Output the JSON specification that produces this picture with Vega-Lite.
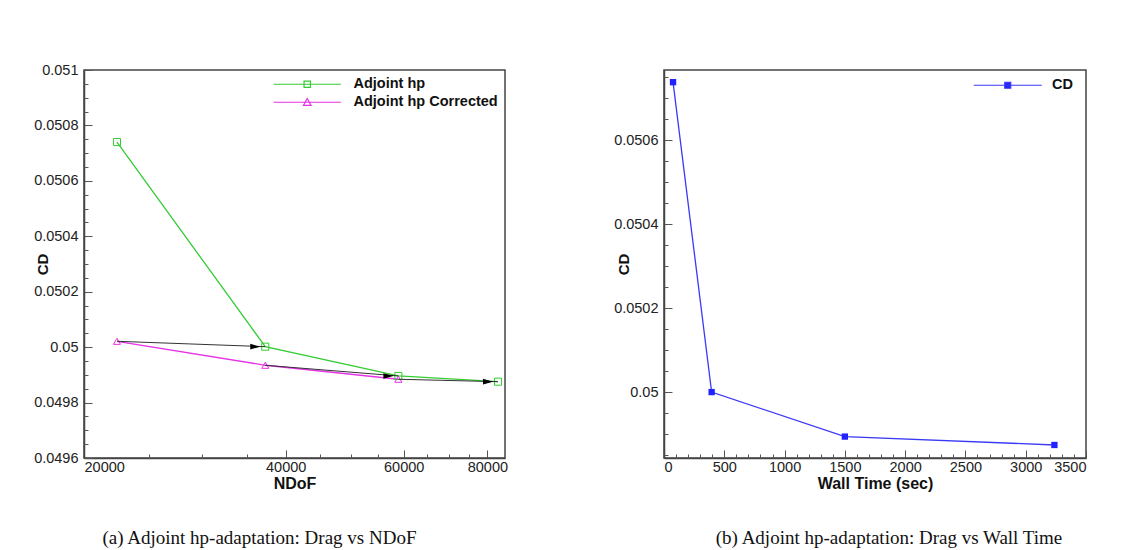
{
  "$schema": "https://vega.github.io/schema/vega-lite/v6.json",
  "background": "white",
  "padding": {"left": 32, "top": 61, "right": 5, "bottom": 5},
  "spacing": 103,
  "resolve": {"scale": {"color": "independent"}, "legend": {"color": "independent"}},
  "config": {
    "font": "Liberation Sans",
    "view": {"stroke": "#444", "strokeWidth": 1.5},
    "axis": {"domainColor": "#444", "domainWidth": 1.5, "tickColor": "#555", "tickWidth": 1, "labelFont": "Liberation Sans", "labelFontSize": 14.5, "labelColor": "#222", "grid": false, "titleFont": "Liberation Sans", "titleFontWeight": "bold", "titleColor": "#111"},
    "legend": {"padding": 0, "labelFont": "Liberation Sans", "labelFontSize": 14.5, "labelFontWeight": "bold", "labelColor": "#111"},
    "title": {"font": "Liberation Serif", "fontSize": 19, "fontWeight": "normal", "color": "#111", "orient": "bottom", "anchor": "middle"}
  },
  "datasets": {
    "drag": [
      {"series": "Adjoint hp", "ndof": 22400, "cd": 0.050740},
      {"series": "Adjoint hp", "ndof": 37290, "cd": 0.0500017},
      {"series": "Adjoint hp", "ndof": 58920, "cd": 0.049896},
      {"series": "Adjoint hp", "ndof": 82980, "cd": 0.0498754},
      {"series": "Adjoint hp Corrected", "ndof": 22400, "cd": 0.0500211},
      {"series": "Adjoint hp Corrected", "ndof": 37290, "cd": 0.0499346},
      {"series": "Adjoint hp Corrected", "ndof": 58920, "cd": 0.0498841}
    ],
    "arrows": [
      {"x1": 22400, "y1": 0.0500211, "x2": 37290, "y2": 0.0500017},
      {"x1": 37290, "y1": 0.0499346, "x2": 58920, "y2": 0.049896},
      {"x1": 58920, "y1": 0.0498841, "x2": 82980, "y2": 0.0498754}
    ],
    "wall": [
      {"series": "CD", "time": 75, "cd": 0.050738},
      {"series": "CD", "time": 395, "cd": 0.0500},
      {"series": "CD", "time": 1500, "cd": 0.049894},
      {"series": "CD", "time": 3238, "cd": 0.049874}
    ]
  },
  "hconcat": [
    {
      "width": 421,
      "height": 388,
      "title": {"text": "(a) Adjoint hp-adaptation: Drag vs NDoF", "dx": -35, "offset": 37},
      "resolve": {"axis": {"x": "independent", "y": "independent"}},
      "layer": [
        {
          "data": {"name": "drag"},
          "mark": {"type": "line", "strokeWidth": 1.3},
          "encoding": {
            "x": {"field": "ndof", "type": "quantitative", "scale": {"type": "log", "domain": [20000, 85000], "nice": false},
              "axis": {"orient": "bottom", "values": [20000, 40000, 60000, 80000], "format": "d", "tickSize": -8, "labelPadding": 10, "title": "NDoF", "titleFontSize": 16, "titlePadding": 2}},
            "y": {"field": "cd", "type": "quantitative", "scale": {"domain": [0.0496, 0.051], "nice": false, "zero": false},
              "axis": {"orient": "left", "values": [0.0496, 0.0498, 0.05, 0.0502, 0.0504, 0.0506, 0.0508, 0.051], "format": ".3~r", "tickSize": -8, "labelPadding": 14, "title": "CD", "titleFontSize": 15, "titleX": -42, "titleY": 194, "titleBaseline": "middle", "titleAngle": -90}},
            "color": {"field": "series", "type": "nominal",
              "scale": {"domain": ["Adjoint hp", "Adjoint hp Corrected"], "range": ["#33cc33", "#e633e6"]},
              "legend": {"title": null, "orient": "none", "legendX": 188, "legendY": 7, "symbolSize": 64, "symbolOffset": 28, "labelOffset": 39, "rowPadding": 3, "symbolStrokeWidth": 1.2, "symbolFillColor": "transparent",
                "encode": {"symbols": {"update": {"shape": {"signal": "datum.value == 'Adjoint hp' ? 'M-8.4,0H8.4M-0.8,-0.8H0.8V0.8H-0.8Z' : 'M-8.4,0H8.4M0,-0.95L0.95,0.8H-0.95Z'"}}}}}}
          }
        },
        {
          "data": {"name": "drag"},
          "mark": {"type": "point", "filled": false, "strokeWidth": 1, "opacity": 1},
          "encoding": {
            "x": {"field": "ndof", "type": "quantitative",
              "axis": {"orient": "bottom", "values": [25000, 30000, 35000, 45000, 50000, 55000, 65000, 70000, 75000], "tickSize": -4, "labels": false, "domain": false, "title": null}},
            "y": {"field": "cd", "type": "quantitative",
              "axis": {"orient": "left", "values": [0.04965, 0.0497, 0.04975, 0.04985, 0.0499, 0.04995, 0.05005, 0.0501, 0.05015, 0.05025, 0.0503, 0.05035, 0.05045, 0.0505, 0.05055, 0.05065, 0.0507, 0.05075, 0.05085, 0.0509, 0.05095], "tickSize": -4, "labels": false, "domain": false, "title": null}},
            "color": {"field": "series", "type": "nominal"},
            "shape": {"field": "series", "type": "nominal", "scale": {"domain": ["Adjoint hp", "Adjoint hp Corrected"], "range": ["square", "triangle-up"]}, "legend": null},
            "size": {"value": 50}
          }
        },
        {
          "data": {"name": "arrows"},
          "mark": {"type": "rule", "color": "#333", "strokeWidth": 1},
          "encoding": {
            "x": {"field": "x1", "type": "quantitative", "axis": null},
            "y": {"field": "y1", "type": "quantitative", "axis": null},
            "x2": {"field": "x2"},
            "y2": {"field": "y2"}
          }
        },
        {
          "data": {"name": "arrows"},
          "mark": {"type": "point", "shape": "M0,0L-1,-0.28L-1,0.28Z", "filled": true, "color": "#000", "opacity": 1, "size": 400, "xOffset": -5},
          "encoding": {
            "x": {"field": "x2", "type": "quantitative", "axis": null},
            "y": {"field": "y2", "type": "quantitative", "axis": null}
          }
        }
      ]
    },
    {
      "width": 422,
      "height": 388,
      "title": {"text": "(b) Adjoint hp-adaptation: Drag vs Wall Time", "dx": 14, "offset": 37},
      "resolve": {"axis": {"x": "independent", "y": "independent"}},
      "data": {"name": "wall"},
      "layer": [
        {
          "mark": {"type": "line", "strokeWidth": 1.3},
          "encoding": {
            "x": {"field": "time", "type": "quantitative", "scale": {"domain": [0, 3500], "nice": false},
              "axis": {"orient": "bottom", "values": [0, 500, 1000, 1500, 2000, 2500, 3000, 3500], "format": "d", "tickSize": -8, "labelPadding": 10, "title": "Wall Time (sec)", "titleFontSize": 16, "titlePadding": 2}},
            "y": {"field": "cd", "type": "quantitative", "scale": {"domain": [0.049843, 0.050767], "nice": false, "zero": false},
              "axis": {"orient": "left", "values": [0.05, 0.0502, 0.0504, 0.0506], "format": ".3~r", "tickSize": -8, "labelPadding": 14, "title": "CD", "titleFontSize": 15, "titleX": -41, "titleY": 194, "titleBaseline": "middle", "titleAngle": -90}},
            "color": {"field": "series", "type": "nominal", "scale": {"domain": ["CD"], "range": ["#3a3af5"]},
              "legend": {"title": null, "orient": "none", "legendX": 309, "legendY": 8, "symbolSize": 64, "symbolOffset": 27.5, "labelOffset": 37, "symbolStrokeWidth": 1.2, "symbolFillColor": "#2222ff",
                "symbolType": "M-8.5,0H8.5M-0.75,-0.75H0.75V0.75H-0.75Z"}}
          }
        },
        {
          "mark": {"type": "point", "shape": "square", "filled": true, "opacity": 1, "size": 40, "color": "#2222ff"},
          "encoding": {
            "x": {"field": "time", "type": "quantitative",
              "axis": {"orient": "bottom", "values": [100, 200, 300, 400, 600, 700, 800, 900, 1100, 1200, 1300, 1400, 1600, 1700, 1800, 1900, 2100, 2200, 2300, 2400, 2600, 2700, 2800, 2900, 3100, 3200, 3300, 3400], "tickSize": -4, "labels": false, "domain": false, "title": null}},
            "y": {"field": "cd", "type": "quantitative",
              "axis": {"orient": "left", "values": [0.04985, 0.0499, 0.04995, 0.05005, 0.0501, 0.05015, 0.05025, 0.0503, 0.05035, 0.05045, 0.0505, 0.05055, 0.05065, 0.0507, 0.05075], "tickSize": -4, "labels": false, "domain": false, "title": null}}
          }
        }
      ]
    }
  ]
}
